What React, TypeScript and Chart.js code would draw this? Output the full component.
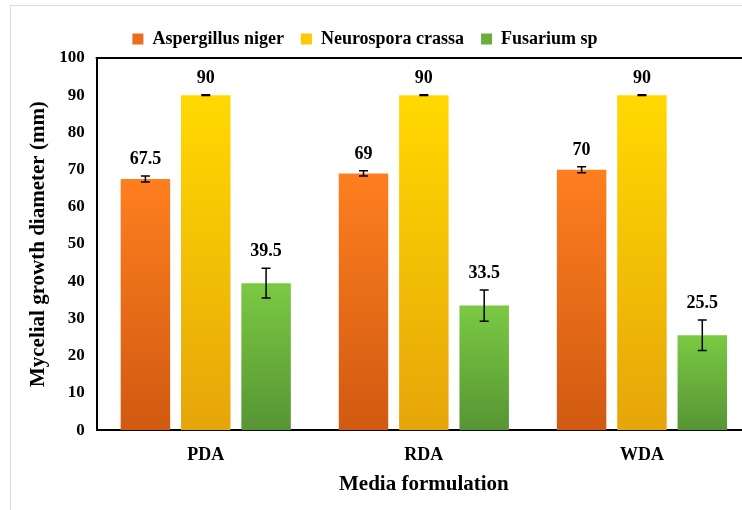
import React, { useEffect, useRef } from "react";
import { Chart, registerables } from "chart.js";

Chart.register(...registerables);

const categories = ["PDA", "RDA", "WDA"];
const seriesNames = ["Aspergillus niger", "Neurospora crassa", "Fusarium sp"];
const aspergillus = [67.5, 69, 70];
const neurospora = [90, 90, 90];
const fusarium = [39.5, 33.5, 25.5];
const aspergillusErr = [0.8, 0.7, 0.8];
const neurosporaErr = [0.1, 0.1, 0.1];
const fusariumErr = [4, 4.2, 4.1];
const yMin = 0;
const yMax = 100;
const yStep = 10;

const FONT = '"Liberation Serif", "Times New Roman", serif';

const topColors = ["#FF7F1F", "#FFD900", "#7AC943"];
const bottomColors = ["#D05A12", "#E6A50A", "#579534"];
const legendColors = ["#EE6D1B", "#FFC800", "#69AE3A"];

export default function App() {
  const ref = useRef<HTMLCanvasElement | null>(null);

  useEffect(() => {
    document.body.style.overflow = "hidden";
    const canvas = ref.current;
    if (!canvas) return;
    const values = [aspergillus, neurospora, fusarium];
    const errors = [aspergillusErr, neurosporaErr, fusariumErr];

    const gradientFor = (i: number) => (ctx: any) => {
      const chart = ctx.chart;
      const y = chart.scales.y;
      if (!y || !chart.chartArea || ctx.type !== "data") return legendColors[i];
      const v = ctx.raw as number;
      const top = y.getPixelForValue(v);
      const bottom = y.getPixelForValue(0);
      if (!isFinite(top) || !isFinite(bottom) || top === bottom) return legendColors[i];
      const g = chart.ctx.createLinearGradient(0, top, 0, bottom);
      g.addColorStop(0, topColors[i]);
      g.addColorStop(1, bottomColors[i]);
      return g;
    };

    const errorPlugin = {
      id: "errorBarsAndLabels",
      afterDatasetsDraw(chart: any) {
        const c = chart.ctx;
        const y = chart.scales.y;
        c.save();
        chart.data.datasets.forEach((ds: any, di: number) => {
          const meta = chart.getDatasetMeta(di);
          meta.data.forEach((bar: any, i: number) => {
            const v = values[di][i];
            const e = errors[di][i];
            const x = bar.x;
            const yt = y.getPixelForValue(v + e);
            const yb = y.getPixelForValue(v - e);
            c.strokeStyle = "#000";
            c.lineWidth = 1.5;
            c.beginPath();
            c.moveTo(x, yt);
            c.lineTo(x, yb);
            c.moveTo(x - 4.5, yt);
            c.lineTo(x + 4.5, yt);
            c.moveTo(x - 4.5, yb);
            c.lineTo(x + 4.5, yb);
            c.stroke();
            c.fillStyle = "#000";
            c.font = `bold 18px ${FONT}`;
            c.textAlign = "center";
            c.textBaseline = "alphabetic";
            c.fillText(String(v), x, yt - 12);
          });
        });
        const a = chart.chartArea;
        c.strokeStyle = "#000";
        c.lineWidth = 2;
        c.beginPath();
        c.moveTo(a.left - 1, a.top);
        c.lineTo(a.right + 10, a.top);
        c.stroke();
        c.restore();
      },
    };

    const legendShift = {
      id: "legendShift",
      afterLayout(chart: any) {
        const lg = chart.legend;
        if (!lg) return;
        const dx = 365 - (lg.left + lg.right) / 2;
        lg.left += dx;
        lg.right += dx;
      },
    };

    const chart = new Chart(canvas, {
      type: "bar",
      data: {
        labels: categories,
        datasets: seriesNames.map((name, i) => ({
          label: name,
          data: values[i],
          backgroundColor: gradientFor(i),
          borderWidth: 0,
          barPercentage: 0.82,
          categoryPercentage: 0.83,
        })),
      },
      options: {
        animation: false,
        responsive: true,
        maintainAspectRatio: false,
        layout: { padding: { left: 26, right: 9, top: 13, bottom: 13 } },
        plugins: {
          tooltip: { enabled: false },
          legend: {
            position: "top",
            labels: {
              boxWidth: 11,
              boxHeight: 11,
              padding: 17,
              color: "#000",
              font: { family: FONT, size: 18, weight: "bold" },
              generateLabels: () =>
                seriesNames.map((n, i) => ({
                  text: n,
                  fillStyle: legendColors[i],
                  strokeStyle: legendColors[i],
                  lineWidth: 0,
                  hidden: false,
                  datasetIndex: i,
                })),
            },
          },
        },
        scales: {
          x: {
            grid: { display: false, drawTicks: false },
            border: { display: true, color: "#000", width: 2 },
            ticks: {
              color: "#000",
              padding: 14,
              font: { family: FONT, size: 18, weight: "bold" },
            },
            title: {
              display: true,
              text: "Media formulation",
              color: "#000",
              padding: { top: -8, bottom: 0 },
              font: { family: FONT, size: 21, weight: "bold" },
            },
          },
          y: {
            min: yMin,
            max: yMax,
            grid: { display: false, drawTicks: false },
            border: { display: true, color: "#000", width: 2 },
            ticks: {
              stepSize: yStep,
              color: "#000",
              padding: 12,
              font: { family: FONT, size: 17, weight: "bold" },
            },
            title: {
              display: true,
              text: "Mycelial growth diameter (mm)",
              color: "#000",
              padding: { top: 0, bottom: -4 },
              font: { family: FONT, size: 21, weight: "bold" },
            },
          },
        },
      },
      plugins: [errorPlugin, legendShift],
    });
    return () => chart.destroy();
  }, []);

  return (
    <>
      <div
        style={{
          position: "fixed",
          left: 10,
          top: 5,
          width: 800,
          height: 600,
          border: "1px solid #dcdcdc",
          boxSizing: "border-box",
        }}
      />
      <div style={{ position: "fixed", left: 0, top: 0, width: 760, height: 510 }}>
        <canvas ref={ref} />
      </div>
    </>
  );
}
